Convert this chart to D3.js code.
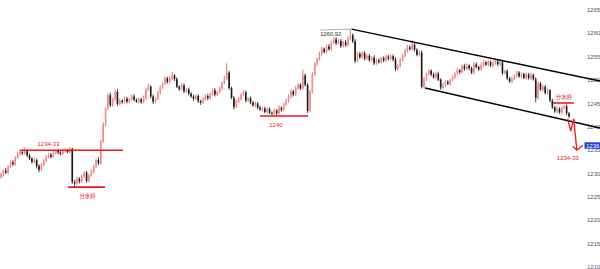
<!DOCTYPE html>
<html>
<head>
<meta charset="utf-8">
<script src="https://cdn.jsdelivr.net/npm/d3@7"></script>
<style>
  body { margin: 0; background: #fff; }
  svg { display: block; }
</style>
</head>
<body>
<svg></svg>
<script>
// closes, one per candle; open = previous close
const firstOpen = 1229.2
const closes = [
  1229.8, 1230.6, 1230.2, 1231.5, 1232.4, 1232.0, 1233.4, 1234.2, 1234.6, 1234.3,
  1234.8, 1233.9, 1233.2, 1232.5, 1232.9, 1231.6, 1230.8, 1231.9, 1232.7, 1233.5,
  1234.0, 1233.6, 1234.4, 1234.9, 1234.5, 1234.2, 1234.8, 1235.0, 1234.6, 1235.3,
  1228.2, 1227.9, 1228.9, 1228.3, 1229.4, 1230.2, 1228.4, 1229.6, 1230.4, 1231.5,
  1232.9, 1232.2, 1236.8, 1240.5, 1243.9, 1246.8, 1244.6, 1245.9, 1247.5, 1244.9,
  1245.6, 1245.3, 1246.0, 1245.4, 1245.9, 1246.5, 1245.8, 1245.4, 1245.9, 1245.3,
  1246.2, 1247.9, 1248.6, 1246.5, 1245.4, 1246.0, 1247.3, 1248.4, 1249.2, 1250.4,
  1249.6, 1250.3, 1251.0, 1250.2, 1248.6, 1248.1, 1248.9, 1247.6, 1248.0, 1247.1,
  1246.5, 1246.0, 1246.6, 1245.5, 1245.2, 1245.9, 1246.6, 1246.1, 1247.0, 1247.8,
  1246.9, 1247.4, 1248.2, 1249.4, 1250.3, 1251.6, 1248.3, 1246.2, 1244.3, 1245.4,
  1246.0, 1246.9, 1247.4, 1245.6, 1246.1, 1245.2, 1244.6, 1245.0, 1244.1, 1243.7,
  1243.9, 1243.2, 1243.8, 1243.0, 1242.8, 1243.5, 1242.9, 1244.1, 1243.6, 1244.8,
  1245.6, 1246.4, 1247.6, 1246.9, 1248.3, 1249.0, 1248.2, 1251.0, 1249.0, 1243.4,
  1247.5, 1251.2, 1253.4, 1254.5, 1255.6, 1256.7, 1256.0, 1257.2, 1256.6, 1258.0,
  1258.7, 1257.9, 1258.4, 1257.3, 1258.1, 1257.5, 1258.9, 1259.6, 1258.3, 1254.1,
  1255.6, 1254.9, 1255.8, 1254.6, 1255.2, 1254.3, 1254.8, 1253.6, 1254.2, 1253.9,
  1254.7, 1254.2, 1255.0, 1254.6, 1255.1, 1254.4, 1252.4, 1253.1, 1254.3, 1255.2,
  1256.3, 1257.0, 1256.6, 1257.6, 1256.5, 1255.4, 1255.9, 1248.6, 1250.2, 1251.3,
  1252.0, 1251.2, 1250.6, 1251.4, 1250.1, 1248.4, 1249.0, 1249.6, 1249.2, 1250.0,
  1250.6, 1251.4, 1252.1, 1251.7, 1253.0, 1252.4, 1253.1, 1252.5, 1251.6, 1253.4,
  1252.8, 1252.3, 1253.2, 1253.8, 1253.3, 1253.9, 1253.1, 1253.6, 1254.0, 1253.4,
  1253.8, 1251.5, 1251.9, 1250.4, 1249.7, 1250.3, 1251.0, 1251.6, 1250.8, 1251.3,
  1250.5, 1251.2, 1250.4, 1251.1, 1250.2, 1246.2, 1249.3, 1248.0, 1248.6, 1247.2,
  1247.8, 1245.6, 1244.2, 1243.3, 1243.9, 1243.1, 1244.0, 1244.4, 1242.9, 1242.2
]
const wickUp = [
  0.4, 0.3, 0.6, 0.3, 0.4, 0.5, 0.3, 0.4, 0.5, 0.3,
  0.8, 0.3, 0.4, 0.3, 0.5, 0.3, 0.4, 0.3, 0.4, 0.5,
  0.3, 0.4, 0.5, 0.3, 0.4, 0.3, 0.5, 0.4, 0.3, 0.4,
  0.2, 0.5, 0.4, 0.3, 0.4, 0.3, 0.4, 0.3, 0.5, 0.4,
  0.3, 0.6, 0.4, 0.5, 0.3, 0.4, 0.5, 0.3, 0.4, 0.6,
  0.4, 0.3, 0.5, 0.4, 0.3, 0.4, 0.5, 0.3, 0.4, 0.3,
  0.5, 0.4, 0.6, 0.3, 0.4, 0.3, 0.4, 0.5, 0.3, 0.4,
  0.3, 0.5, 0.8, 0.3, 0.4, 0.3, 0.5, 0.4, 0.3, 0.4,
  0.3, 0.4, 0.3, 0.4, 0.3, 0.5, 0.3, 0.4, 0.3, 0.4,
  0.5, 0.3, 0.4, 0.3, 0.6, 2.0, 0.4, 0.3, 0.4, 0.5,
  0.4, 0.3, 0.5, 0.4, 0.3, 0.4, 0.3, 0.4, 0.3, 0.4,
  0.3, 0.4, 0.3, 0.4, 0.3, 0.4, 0.3, 0.5, 0.3, 0.4,
  0.4, 0.5, 0.4, 0.3, 0.5, 0.4, 0.3, 1.2, 0.4, 0.3,
  0.4, 0.5, 0.4, 0.3, 0.5, 0.4, 0.3, 0.4, 0.5, 0.4,
  0.4, 0.5, 0.3, 0.4, 0.3, 0.5, 0.4, 1.3, 0.4, 0.5,
  0.4, 0.5, 0.3, 0.4, 0.3, 0.4, 0.3, 0.5, 0.3, 0.4,
  0.3, 0.4, 0.3, 0.4, 0.3, 0.4, 0.5, 0.3, 0.4, 0.5,
  0.4, 0.5, 0.4, 1.0, 0.4, 0.3, 0.4, 0.5, 0.4, 0.3,
  0.4, 0.3, 0.4, 0.3, 0.4, 0.3, 0.4, 0.3, 0.4, 0.3,
  0.4, 0.3, 0.5, 0.3, 0.4, 0.5, 0.4, 0.3, 0.4, 0.5,
  0.4, 0.3, 0.5, 0.4, 0.3, 0.4, 0.3, 0.5, 0.4, 0.3,
  0.4, 0.5, 0.3, 0.4, 0.3, 0.4, 0.3, 0.4, 0.3, 0.4,
  0.3, 0.4, 0.3, 0.4, 0.3, 0.4, 0.5, 0.3, 0.4, 0.3,
  0.4, 0.3, 0.4, 0.3, 0.4, 0.3, 0.4, 0.3, 0.4, 0.3
]
const wickDn = [
  0.3, 0.5, 0.3, 0.4, 0.3, 0.4, 0.3, 0.3, 0.4, 0.3,
  0.3, 0.4, 0.3, 0.4, 0.3, 0.5, 0.5, 0.3, 0.4, 0.3,
  0.3, 0.4, 0.3, 0.3, 0.4, 0.3, 0.3, 0.4, 0.3, 0.3,
  0.4, 0.8, 0.3, 0.4, 0.3, 0.3, 0.4, 0.3, 0.3, 0.4,
  0.3, 0.4, 0.3, 0.3, 0.4, 0.3, 0.4, 0.3, 0.3, 0.4,
  0.3, 0.4, 0.3, 0.4, 0.3, 0.3, 0.4, 0.3, 0.3, 0.4,
  0.3, 0.4, 0.3, 0.4, 0.5, 0.3, 0.3, 0.4, 0.3, 0.3,
  0.4, 0.3, 0.3, 0.4, 0.3, 0.4, 0.3, 0.4, 0.3, 0.4,
  0.3, 0.4, 0.3, 0.4, 0.5, 0.3, 0.3, 0.4, 0.3, 0.3,
  0.4, 0.3, 0.3, 0.4, 0.3, 0.3, 0.4, 0.3, 0.6, 0.3,
  0.3, 0.4, 0.3, 0.4, 0.3, 0.4, 0.3, 0.4, 0.4, 0.3,
  0.4, 0.3, 0.4, 0.3, 0.4, 0.3, 0.6, 0.3, 0.4, 0.3,
  0.3, 0.4, 0.3, 0.4, 0.3, 0.4, 0.3, 0.3, 0.4, 0.4,
  0.3, 0.4, 0.3, 0.4, 0.3, 0.4, 0.3, 0.4, 0.3, 0.4,
  0.3, 0.4, 0.3, 0.4, 0.3, 0.4, 0.3, 0.3, 0.4, 0.5,
  0.3, 0.4, 0.3, 0.4, 0.3, 0.4, 0.3, 0.4, 0.3, 0.4,
  0.3, 0.4, 0.3, 0.4, 0.3, 0.4, 0.5, 0.3, 0.4, 0.3,
  0.3, 0.4, 0.3, 0.3, 0.4, 0.3, 0.4, 0.4, 0.3, 0.4,
  0.3, 0.4, 0.3, 0.4, 0.3, 0.5, 0.3, 0.4, 0.3, 0.4,
  0.3, 0.4, 0.3, 0.4, 0.3, 0.4, 0.3, 0.4, 0.3, 0.4,
  0.3, 0.4, 0.3, 0.4, 0.3, 0.4, 0.3, 0.4, 0.3, 0.4,
  0.3, 0.4, 0.3, 0.4, 0.3, 0.4, 0.3, 0.4, 0.3, 0.4,
  0.3, 0.4, 0.3, 0.4, 0.3, 0.9, 0.4, 0.3, 0.4, 0.3,
  0.4, 0.3, 0.4, 0.3, 0.4, 0.3, 0.4, 0.3, 0.4, 0.3
]

const yTicks = [1210, 1215, 1220, 1225, 1230, 1235, 1240, 1245, 1250, 1255, 1260, 1265]

// red horizontal levels (candle index from/to, label anchor)
const levelPrices = [1235.0, 1227.1, 1242.3, 1245.1]
const levelFrom = [8, 28.2, 109, 232.2]
const levelTo = [51.3, 43.8, 129.2, 241]
const levelLabels = ["1234-33", "分水岭", "1240", "分水岭"]
const levelLabelAt = [20, 36.4, 115.7, 236.9]

// channel lines [index, price]
const channelUpper = [[147.5, 1260.92], [252, 1249.8]]
const channelLower = [[178.4, 1248.3], [252, 1239.75]]

// red zigzag projection
const arrowPoints = [[238.5, 1241.7], [239.7, 1239.1], [241, 1241.7], [242.3, 1235.0]]
const targetLabel = "1234-33"

const peakIndex = 147, peakPrice = 1260.92
const lastPrice = 1236.0

const svg = d3.select("svg").attr("width", 600).attr("height", 269)

const x = d3.scaleLinear().domain([0, closes.length - 1]).range([1, 569]),
      y = d3.scaleLinear().domain([1210, 1265]).range([267, 10])

const candles = closes.map((c, i) => {
  const o = i ? closes[i - 1] : firstOpen
  return {i, o, c, h: Math.max(o, c) + wickUp[i], l: Math.min(o, c) - wickDn[i]}
})

const up = d => d.c >= d.o

// y labels
svg.append("g").selectAll("text").data(yTicks).join("text")
  .attr("x", 587).attr("y", d => y(d)).attr("dy", "0.35em")
  .text(d => d)
  .style("font-family", "Liberation Sans, Arial, sans-serif").style("font-size", "6px").style("fill", "#555")

// candles
const cg = svg.append("g")
cg.selectAll("line").data(candles).join("line")
  .attr("x1", d => x(d.i)).attr("x2", d => x(d.i))
  .attr("y1", d => y(d.h)).attr("y2", d => y(d.l))
  .style("stroke", d => up(d) ? "#ec4a4a" : "#111").style("stroke-width", 0.8)
cg.selectAll("rect").data(candles).join("rect")
  .attr("x", d => x(d.i) - 0.8).attr("width", 1.6)
  .attr("y", d => y(Math.max(d.o, d.c)))
  .attr("height", d => Math.max(0.7, Math.abs(y(d.o) - y(d.c))))
  .style("fill", d => up(d) ? "#f58a8a" : "#1a1a1a")

// channel
const line = d3.line().x(d => x(d[0])).y(d => y(d[1]))
;[channelUpper, channelLower].forEach(pts =>
  svg.append("path").attr("d", line(pts)).style("fill", "none").style("stroke", "#000").style("stroke-width", 1.4))

// levels
const red = "#f01818"
levelPrices.forEach((p, k) => {
  svg.append("line").attr("x1", x(levelFrom[k])).attr("x2", x(levelTo[k])).attr("y1", y(p)).attr("y2", y(p))
    .style("stroke", red).style("stroke-width", 1.6)
  const above = k == 0 || k == 3
  svg.append("text").text(levelLabels[k])
    .attr("x", x(levelLabelAt[k])).attr("y", y(p) + (above ? -4 : 11))
    .style("text-anchor", "middle")
    .style("font-family", "Liberation Sans, 'Noto Sans CJK SC', sans-serif")
    .style("font-size", /[0-9]/.test(levelLabels[k]) ? "6px" : "5.5px")
    .style("fill", red)
})

// peak label
svg.append("line").attr("x1", x(peakIndex) - 30).attr("x2", x(peakIndex)).attr("y1", y(peakPrice) + 1).attr("y2", y(peakPrice))
  .style("stroke", "#777").style("stroke-width", 0.6)
svg.append("text").text(peakPrice.toFixed(2))
  .attr("x", x(peakIndex) - 30).attr("y", y(peakPrice) + 6.5)
  .style("font-family", "Liberation Sans, Arial, sans-serif").style("font-size", "5.8px").style("fill", "#333")

// zigzag arrow
const end = arrowPoints[arrowPoints.length - 1]
svg.append("path").attr("d", line(arrowPoints)).style("fill", "none").style("stroke", red).style("stroke-width", 1.3)
svg.append("path")
  .attr("d", `M${x(end[0]) - 4},${y(end[1]) - 4}L${x(end[0])},${y(end[1])}L${x(end[0]) + 6},${y(end[1]) - 5}`)
  .style("fill", "none").style("stroke", red).style("stroke-width", 1.3)
svg.append("text").text(targetLabel)
  .attr("x", x(end[0]) - 9).attr("y", y(end[1]) + 10)
  .style("text-anchor", "middle").style("font-family", "Liberation Sans, Arial, sans-serif").style("font-size", "6px").style("fill", red)

// last price tag
svg.append("rect").attr("x", 584.5).attr("y", y(lastPrice) - 3.2).attr("width", 15.5).attr("height", 6.4).style("fill", "#1d3fd6")
svg.append("text").text(lastPrice.toFixed(0))
  .attr("x", 586).attr("y", y(lastPrice)).attr("dy", "0.35em")
  .style("font-family", "Liberation Sans, Arial, sans-serif").style("font-size", "6px").style("fill", "#fff")
</script>
</body>
</html>
